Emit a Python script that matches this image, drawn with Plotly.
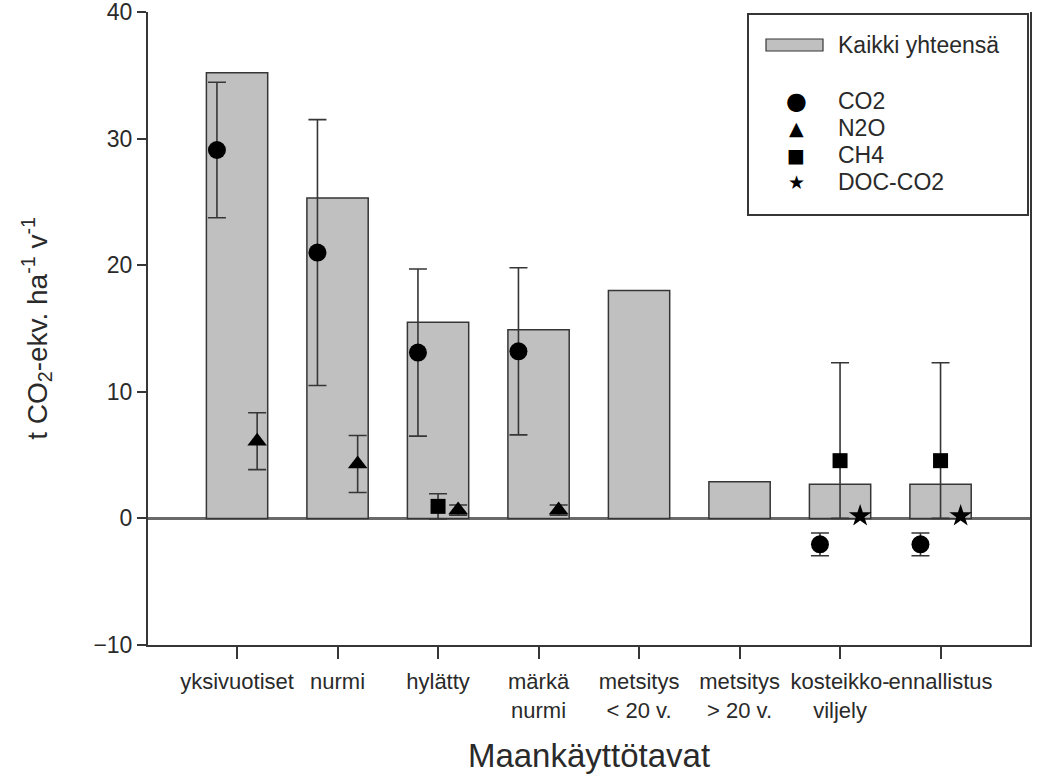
import plotly.graph_objects as go

# ---- data ----
categories = ["yksivuotiset", "nurmi", "hylätty", "märkä<br>nurmi",
              "metsitys<br>< 20 v.", "metsitys<br>> 20 v.", "kosteikko-<br>viljely", "ennallistus"]
total = [35.2, 25.3, 15.5, 14.9, 18.0, 2.9, 2.7, 2.7]
co2 = [29.1, 21.0, 13.1, 13.2, None, None, -2.05, -2.05]
co2_err = [5.35, 10.5, 6.6, 6.6, None, None, 0.9, 0.9]
n2o = [6.1, 4.3, 0.66, 0.66, None, None, None, None]
n2o_err = [2.25, 2.25, 0.4, 0.4, None, None, None, None]
ch4 = [None, None, 0.95, None, None, None, 4.56, 4.56]
ch4_err_plus = [None, None, 1.0, None, None, None, 7.74, 7.74]
ch4_err_minus = [None, None, 1.0, None, None, None, 4.56, 4.56]
doc_co2 = [None, None, None, None, None, None, 0.2, 0.2]

legend_total = "Kaikki yhteensä"
legend_names = ["CO2", "N2O", "CH4", "DOC-CO2"]
y_ticks = [-10, 0, 10, 20, 30, 40]

# ---- styling ----
FONT = "Liberation Sans, Arial, sans-serif"
TXT = "#2a2a2a"
LINE = "#363636"
idx = list(range(len(categories)))
OFF = {"CO2": -0.2, "N2O": 0.2, "CH4": 0.0, "DOC-CO2": 0.2}


def shifted(name):
    return [i + OFF[name] for i in idx]


fig = go.Figure()
fig.add_trace(go.Bar(
    x=idx, y=total, name=legend_total, width=0.61,
    marker=dict(color="#c0c0c0", line=dict(color=LINE, width=1.5)),
    showlegend=False,
))

err_style = dict(type="data", visible=True, color=LINE, thickness=1.6, width=9)

fig.add_trace(go.Scatter(
    x=shifted("CO2"), y=co2, mode="markers", name="CO2", showlegend=False,
    marker=dict(symbol="circle", size=18, color="black"),
    error_y=dict(array=co2_err, **err_style),
))
fig.add_trace(go.Scatter(
    x=shifted("N2O"), y=n2o, mode="markers", name="N2O", showlegend=False,
    marker=dict(symbol="triangle-up", size=17, color="black"),
    error_y=dict(array=n2o_err, **err_style),
))
fig.add_trace(go.Scatter(
    x=shifted("CH4"), y=ch4, mode="markers", name="CH4", showlegend=False,
    marker=dict(symbol="square", size=15, color="black"),
    error_y=dict(array=ch4_err_plus, arrayminus=ch4_err_minus, symmetric=False, **err_style),
))
fig.add_trace(go.Scatter(
    x=shifted("DOC-CO2"), y=doc_co2, mode="markers", name="DOC-CO2", showlegend=False,
    marker=dict(symbol="star", size=17, color="black"),
))

# ---- manual legend (box, swatch, glyphs, labels) ----
L, R, T, B = 148, 1030, 12, 645
W, H = R - L, B - T


def px(xp):
    return (xp - L) / W


def py(yp):
    return (B - yp) / H


fig.add_shape(type="rect", xref="paper", yref="paper",
              x0=px(748), x1=px(1028), y0=py(215), y1=py(14),
              line=dict(color=LINE, width=2), fillcolor="white", layer="above")
fig.add_shape(type="rect", xref="paper", yref="paper",
              x0=px(766), x1=px(823), y0=py(51), y1=py(39),
              line=dict(color=LINE, width=1.2), fillcolor="#c0c0c0", layer="above")
fig.add_annotation(xref="paper", yref="paper", x=px(836), y=py(45), text=legend_total,
                   showarrow=False, xanchor="left", yanchor="middle",
                   font=dict(family=FONT, size=23, color=TXT))
glyphs = ["●", "▲", "■", "★"]
glyph_sizes = [24, 19, 19, 19]
rows = [101, 128, 155, 182]
for g, gs, r, name in zip(glyphs, glyph_sizes, rows, legend_names):
    fig.add_annotation(xref="paper", yref="paper", x=px(796), y=py(r), text=g,
                       showarrow=False, xanchor="center", yanchor="middle",
                       font=dict(family="DejaVu Sans", size=gs, color="black"))
    fig.add_annotation(xref="paper", yref="paper", x=px(836), y=py(r), text=name,
                       showarrow=False, xanchor="left", yanchor="middle",
                       font=dict(family=FONT, size=23, color=TXT))

fig.update_layout(
    width=1054, height=782,
    margin=dict(l=L, r=1054 - R, t=T, b=782 - B),
    paper_bgcolor="white", plot_bgcolor="white",
    font=dict(family=FONT, color=TXT),
    showlegend=False,
)
fig.update_xaxes(
    range=[-0.886, 7.89], tickmode="array", tickvals=idx, ticktext=categories,
    showline=True, linecolor=LINE, linewidth=2, mirror=False,
    ticks="outside", ticklen=12, tickwidth=1.5, tickcolor=LINE,
    tickfont=dict(family=FONT, size=22, color=TXT), tickangle=0,
    ticklabelstandoff=4,
    showgrid=False, zeroline=False, automargin=False,
    title=dict(text="Maankäyttötavat", font=dict(family=FONT, size=33, color=TXT), standoff=22),
)
fig.update_yaxes(
    range=[-10, 40], tickmode="array", tickvals=y_ticks,
    showline=True, linecolor=LINE, linewidth=2, mirror=True,
    ticks="outside", ticklen=9, tickwidth=1.5, tickcolor=LINE,
    tickfont=dict(family=FONT, size=23, color=TXT), ticklabeloverflow="allow",
    showgrid=False, zeroline=True, zerolinecolor="#6a6a6a", zerolinewidth=2.5,
    automargin=False,
    title=dict(text="t CO<sub>2</sub>-ekv. ha<sup>-1</sup> v<sup>-1</sup>",
               font=dict(family=FONT, size=28, color=TXT), standoff=38),
)

fig.write_html("out.html", config={"displayModeBar": False},
               post_script="document.body.style.margin='0px';")
